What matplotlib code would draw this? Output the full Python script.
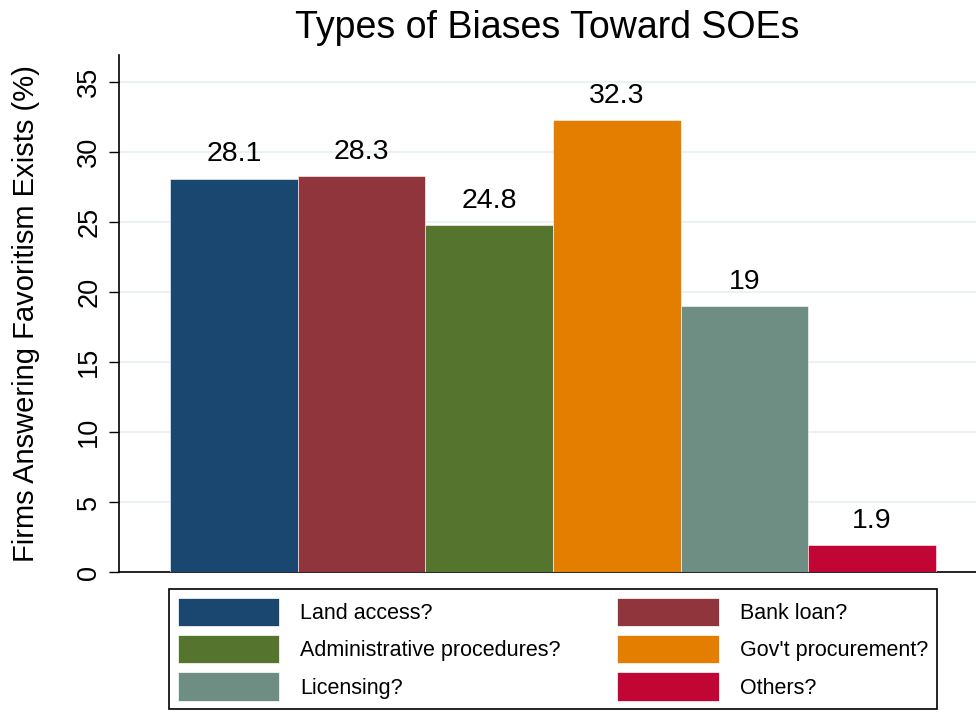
import matplotlib
matplotlib.use("Agg")
import matplotlib.pyplot as plt
from matplotlib.patches import Patch

plt.rcParams['font.family'] = ['Liberation Sans', 'DejaVu Sans']

categories = ["Land access?", "Bank loan?", "Administrative procedures?",
              "Gov't procurement?", "Licensing?", "Others?"]
values = [28.1, 28.3, 24.8, 32.3, 19.0, 1.9]
value_labels = ["28.1", "28.3", "24.8", "32.3", "19", "1.9"]
colors = ["#1a476f", "#90353b", "#55752f", "#e37e00", "#6e8e84", "#c10534"]
yticks = [0, 5, 10, 15, 20, 25, 30, 35]

fig = plt.figure(figsize=(9.76, 7.13), dpi=100)
ax = fig.add_axes([119/976, (713-572)/713, 1 - 119/976, (572-55)/713])

x = list(range(len(values)))
bars = ax.bar(x, values, width=1.0, color=colors, edgecolor="white",
              linewidth=0.4, zorder=3)
for xi, v, lab in zip(x, values, value_labels):
    ax.annotate(lab, (xi, v), xytext=(0, 8), textcoords="offset points",
                ha="center", va="bottom", fontsize=20.5, color="black")

ax.set_xlim(-0.5 - 51/127.7, 5.5 + 40/127.7)
ax.set_ylim(0, 35 + 27/14)
ax.set_yticks(yticks)
ax.set_yticklabels([str(t) for t in yticks], rotation=90, va="center", fontsize=19.5)
ax.tick_params(axis="y", length=7, width=1, pad=5)
ax.set_xticks([])
ax.yaxis.grid(True, color="#eaf2f3", linewidth=1.5, zorder=0)
ax.set_axisbelow(True)
for s in ["top", "right"]:
    ax.spines[s].set_visible(False)
for s in ["left", "bottom"]:
    ax.spines[s].set_linewidth(1.2)
ax.set_ylabel("Firms Answering Favoritism Exists (%)", fontsize=21, labelpad=26)

fig.text((119 + 976) / 2 / 976, 1 - 28/713, "Types of Biases Toward SOEs",
         ha="center", va="center", fontsize=27)

# legend filled row-wise like the reference (matplotlib fills column-wise)
order = [0, 2, 4, 1, 3, 5]
handles = [Patch(facecolor=colors[i], edgecolor="white", linewidth=0.5) for i in order]
labels = [categories[i] for i in order]
leg = fig.legend(handles, labels, ncol=2, loc="upper left",
                 bbox_to_anchor=(169/976, 1 - 712/713, (937-169)/976, (712-589)/713),
                 mode="expand", fontsize=15.5, frameon=True, fancybox=False,
                 framealpha=1, edgecolor="black", handlelength=4.7, handleheight=1.65,
                 handletextpad=1.0, labelspacing=0.42, borderpad=0.4,
                 borderaxespad=0)
leg.get_frame().set_linewidth(1.2)

fig.savefig("out.png", dpi=100, facecolor="white")
